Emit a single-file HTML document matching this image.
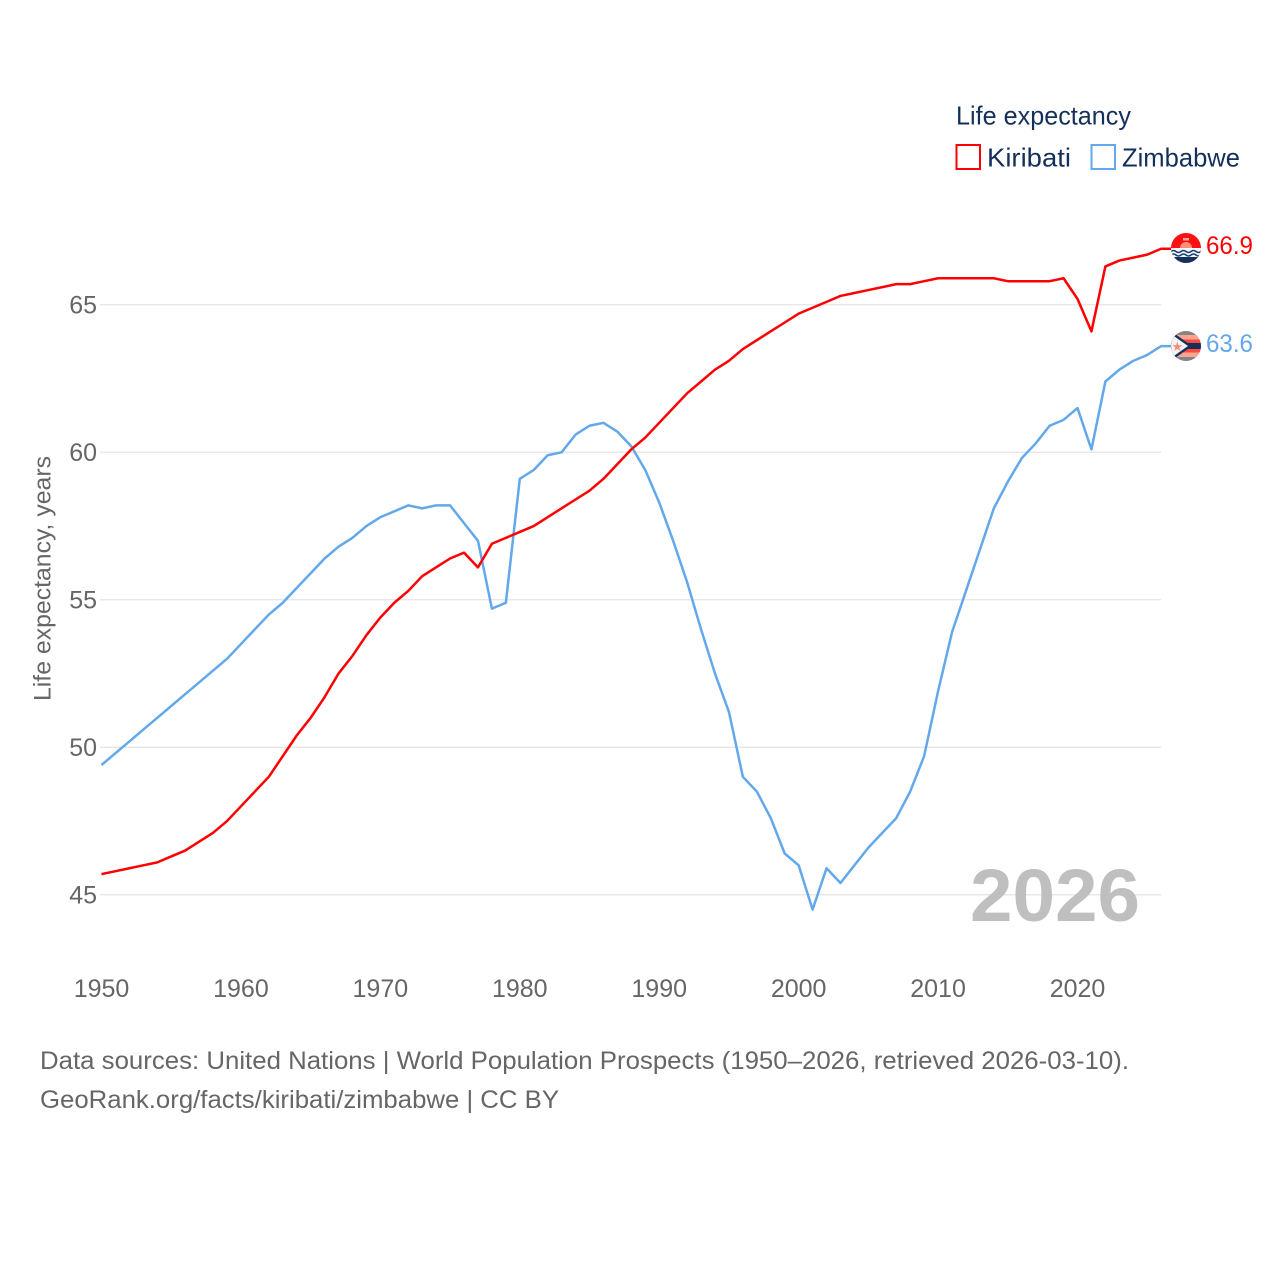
<!DOCTYPE html>
<html lang="en">
<head>
<meta charset="utf-8">
<title>Life expectancy: Kiribati and Zimbabwe</title>
<style>
html,body{margin:0;padding:0;background:#fff;width:1280px;height:1280px;overflow:hidden}
svg{display:block}
text{font-family:"Liberation Sans",sans-serif}
</style>
</head>
<body>
<svg id="chart" width="1280" height="1280" viewBox="0 0 1280 1280" xmlns="http://www.w3.org/2000/svg">
  <rect width="1280" height="1280" fill="#fff"/>
  <defs>
    <clipPath id="flag-clip-k"><circle cx="1186" cy="248" r="15"/></clipPath>
    <clipPath id="flag-clip-z"><circle cx="1186" cy="346" r="15"/></clipPath>
  </defs>
  <g id="grid"></g>
  <g id="yticks"></g>
  <g id="xticks"></g>
  <text transform="translate(50.5,701) rotate(-90)" font-size="24" fill="#666" textLength="245" lengthAdjust="spacingAndGlyphs">Life expectancy, years</text>

  <text x="970" y="921" font-size="74" font-weight="700" fill="#bfbfbf" textLength="170" lengthAdjust="spacingAndGlyphs">2026</text>

  <g id="series"></g>

  <g clip-path="url(#flag-clip-k)">
    <rect x="1171" y="233" width="30" height="30" fill="#ff0f12"/>
    <circle cx="1186" cy="248" r="6" fill="#ff8f78"/>
    <rect x="1183" y="238" width="6" height="2.5" fill="#ffa890"/>
    <rect x="1171" y="248" width="30" height="15" fill="#f4f6f8"/>
    <path d="M1171 251.5q2.5-2 5 0t5 0 5 0 5 0 5 0 5 0" fill="none" stroke="#1a3f73" stroke-width="1.5"/>
    <path d="M1171 255q2.5-2 5 0t5 0 5 0 5 0 5 0 5 0" fill="none" stroke="#1a3f73" stroke-width="1.5"/>
    <rect x="1171" y="257" width="30" height="6" fill="#14315c"/>
  </g>
  <g clip-path="url(#flag-clip-z)">
    <rect x="1171" y="331" width="30" height="30" fill="#858585"/>
    <rect x="1171" y="335" width="30" height="4.5" fill="#ffa48f"/>
    <rect x="1171" y="339.5" width="30" height="3.5" fill="#ff4a3f"/>
    <rect x="1171" y="343" width="30" height="6" fill="#14315c"/>
    <rect x="1171" y="349" width="30" height="3.5" fill="#ff4a3f"/>
    <rect x="1171" y="352.5" width="30" height="4.5" fill="#ffa48f"/>
    <path d="M1171 331L1192 346L1171 361Z" fill="#14315c"/>
    <path d="M1171 334L1188 346L1171 358Z" fill="#f3f3f3"/>
    <text x="1171.5" y="351" font-size="13" fill="#ff8a78">★</text>
  </g>

  <text id="end-k" x="1206" y="254" font-size="25" fill="#ff0000" textLength="47" lengthAdjust="spacingAndGlyphs"></text>
  <text id="end-z" x="1206" y="352" font-size="25" fill="#63a8eb" textLength="47" lengthAdjust="spacingAndGlyphs"></text>

  <g>
    <text x="956" y="124.5" font-size="26" fill="#14305a" textLength="175" lengthAdjust="spacingAndGlyphs">Life expectancy</text>
    <rect x="956.5" y="145" width="23.5" height="24" fill="#fff" stroke="#ff0000" stroke-width="2"/>
    <text x="987" y="166.5" font-size="26" fill="#14305a" textLength="84" lengthAdjust="spacingAndGlyphs">Kiribati</text>
    <rect x="1091.5" y="145" width="23.5" height="24" fill="#fff" stroke="#63a8eb" stroke-width="2"/>
    <text x="1122" y="166.5" font-size="26" fill="#14305a" textLength="118" lengthAdjust="spacingAndGlyphs">Zimbabwe</text>
  </g>

  <text x="40" y="1069" font-size="25" fill="#666" textLength="1089" lengthAdjust="spacingAndGlyphs">Data sources: United Nations | World Population Prospects (1950–2026, retrieved 2026-03-10).</text>
  <text x="40" y="1108" font-size="25" fill="#666" textLength="519" lengthAdjust="spacingAndGlyphs">GeoRank.org/facts/kiribati/zimbabwe | CC BY</text>
</svg>
<script>
const startYear = 1950;
const yTickValues = [45, 50, 55, 60, 65];
const xTickLabels = [1950, 1960, 1970, 1980, 1990, 2000, 2010, 2020];
const kiribatiValues = [45.7,45.8,45.9,46.0,46.1,46.3,46.5,46.8,47.1,47.5,48.0,48.5,49.0,49.7,50.4,51.0,51.7,52.5,53.1,53.8,54.4,54.9,55.3,55.8,56.1,56.4,56.6,56.1,56.9,57.1,57.3,57.5,57.8,58.1,58.4,58.7,59.1,59.6,60.1,60.5,61.0,61.5,62.0,62.4,62.8,63.1,63.5,63.8,64.1,64.4,64.7,64.9,65.1,65.3,65.4,65.5,65.6,65.7,65.7,65.8,65.9,65.9,65.9,65.9,65.9,65.8,65.8,65.8,65.8,65.9,65.2,64.1,66.3,66.5,66.6,66.7,66.9];
const zimbabweValues = [49.4,49.8,50.2,50.6,51.0,51.4,51.8,52.2,52.6,53.0,53.5,54.0,54.5,54.9,55.4,55.9,56.4,56.8,57.1,57.5,57.8,58.0,58.2,58.1,58.2,58.2,57.6,57.0,54.7,54.9,59.1,59.4,59.9,60.0,60.6,60.9,61.0,60.7,60.2,59.4,58.3,57.0,55.6,54.0,52.5,51.2,49.0,48.5,47.6,46.4,46.0,44.5,45.9,45.4,46.0,46.6,47.1,47.6,48.5,49.7,51.9,53.9,55.3,56.7,58.1,59.0,59.8,60.3,60.9,61.1,61.5,60.1,62.4,62.8,63.1,63.3,63.6];

const NS = 'http://www.w3.org/2000/svg';
function xScale(year) { return 101.5 + (year - 1950) * (976 / 70); }
function yScale(v) { return 894.8 - (v - 45) * 29.5; }
const plotRight = xScale(startYear + kiribatiValues.length - 1);

const grid = document.getElementById('grid');
const yticks = document.getElementById('yticks');
yTickValues.forEach(function (v) {
  const line = document.createElementNS(NS, 'line');
  
  
  line.setAttribute('x1', 100);
  line.setAttribute('x2', plotRight);
  line.setAttribute('y1', yScale(v));
  line.setAttribute('y2', yScale(v));
  line.setAttribute('stroke', '#e8e8e8');
  line.setAttribute('stroke-width', '1.5');
  grid.appendChild(line);
  const t = document.createElementNS(NS, 'text');
  
  
  t.setAttribute('x', 97);
  t.setAttribute('y', yScale(v) + 8.5);
  t.setAttribute('text-anchor', 'end');
  t.setAttribute('font-size', '25');
  t.setAttribute('fill', '#666');
  t.textContent = v;
  yticks.appendChild(t);
});

const xticks = document.getElementById('xticks');
xTickLabels.forEach(function (y) {
  const t = document.createElementNS(NS, 'text');
  
  
  t.setAttribute('x', xScale(y));
  t.setAttribute('y', 997);
  t.setAttribute('text-anchor', 'middle');
  t.setAttribute('font-size', '25');
  t.setAttribute('fill', '#666');
  t.textContent = y;
  xticks.appendChild(t);
});

function drawSeries(values, color, name) {
  const pts = values.map(function (v, i) {
    return xScale(startYear + i).toFixed(2) + ',' + yScale(v).toFixed(2);
  });
  const lastY = yScale(values[values.length - 1]).toFixed(2);
  pts.push('1172,' + lastY);
  const line = document.createElementNS(NS, 'polyline');
  
  
  line.setAttribute('points', pts.join(' '));
  line.setAttribute('fill', 'none');
  line.setAttribute('stroke', color);
  line.setAttribute('stroke-width', '2.5');
  line.setAttribute('stroke-linejoin', 'round');
  document.getElementById('series').appendChild(line);
}
drawSeries(zimbabweValues, '#63a8eb', 'zimbabwe-line');
drawSeries(kiribatiValues, '#ff0000', 'kiribati-line');

document.getElementById('end-k').textContent = kiribatiValues[kiribatiValues.length - 1].toFixed(1);
document.getElementById('end-z').textContent = zimbabweValues[zimbabweValues.length - 1].toFixed(1);
</script>
</body>
</html>
